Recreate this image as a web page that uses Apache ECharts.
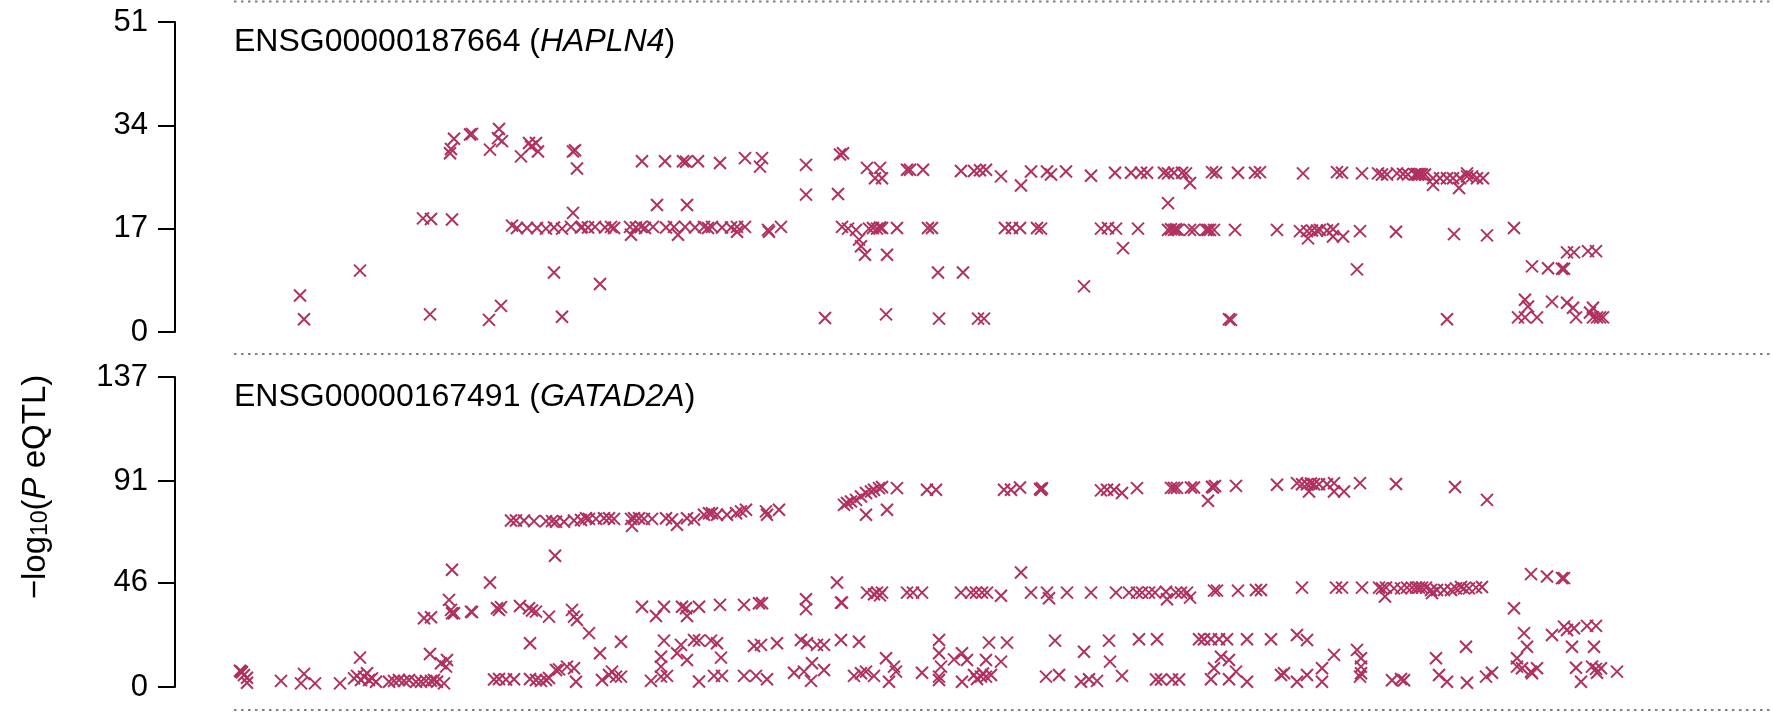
<!DOCTYPE html>
<html>
<head>
<meta charset="utf-8">
<script src="https://cdn.jsdelivr.net/npm/echarts@6/dist/echarts.min.js"></script>
<style>
html, body { margin: 0; padding: 0; background: #fff; }
#main { width: 1773px; height: 716px; }
</style>
</head>
<body>
<div id="main"></div>
<script>
// eQTL -log10(P) against position, two genes
var geneTop = 'ENSG00000187664', symbolTop = 'HAPLN4';
var geneBottom = 'ENSG00000167491', symbolBottom = 'GATAD2A';
var ticksTop = [0, 17, 34, 51];
var ticksBottom = [0, 46, 91, 137];
var posMax = 1539;

// [position, -log10 P]
var hapln4 = [
  [66,6.0],[70,2.1],[126,10.1],[189,18.7],[197,18.6],[218,18.5],[196,2.9],
  [216,29.4],[217,30.1],[220,31.8],[236,32.5],[238,32.6],[256,30.0],[265,33.4],[264,31.9],[268,31.4],
  [255,2.0],[267,4.3],[287,28.9],[295,31.1],[297,30.5],[302,31.1],[304,29.7],[339,29.7],[341,29.9],
  [343,26.9],[339,19.6],[320,9.8],[328,2.5],[366,7.9],
  [278,17.5],[283,17.1],[293,17.1],[303,17.1],[312,17.0],[320,17.2],[328,17.0],[337,17.3],[347,17.2],[397,16.0],
  [408,28.1],[431,28.1],[449,28.1],[452,28.0],[464,28.1],[486,27.8],[511,28.6],[528,28.6],[526,27.2],
  [572,27.5],[606,29.2],[609,29.4],[633,27.0],[646,27.0],[641,25.3],[648,25.3],[673,26.7],[676,26.7],
  [689,26.7],[727,26.5],[740,26.5],[746,26.6],[752,26.7],[767,25.6],[787,24.1],[797,26.4],[813,26.4],
  [817,25.9],[832,26.4],[857,25.7],[881,26.2],[897,26.2],[907,26.2],[913,26.2],
  [423,20.9],[453,20.9],[572,22.6],[604,22.7],[934,21.2],
  [348,17.3],[354,17.2],[361,17.3],[371,17.2],[377,17.3],[380,17.1],[396,17.3],[402,17.2],[407,17.3],
  [411,17.1],[419,17.3],[432,17.2],[440,17.3],[451,17.3],[461,17.2],[470,17.3],[474,17.1],[478,17.3],
  [488,17.2],[497,17.2],[503,17.3],[511,17.3],[534,16.8],[535,16.5],[547,17.3],
  [444,16.0],[503,16.5],
  [608,17.3],[614,17.0],[622,16.8],[635,17.0],[639,17.1],[643,17.0],[646,17.2],[648,17.1],[663,17.1],
  [625,15.2],[627,14.1],[631,12.7],[653,12.7],[694,17.1],[698,17.1],[704,9.8],[729,9.8],
  [591,2.3],[652,2.9],[705,2.2],[744,2.2],[750,2.2],
  [771,17.1],[778,17.1],[786,17.1],[803,17.1],[807,17.0],
  [867,17.0],[874,17.1],[882,17.0],[889,13.8],[904,17.0],[850,7.5],
  [934,16.8],[937,16.9],[940,16.8],[942,16.9],[944,16.8],[956,16.8],[960,16.8],[972,16.8],[974,16.8],
  [976,16.8],[980,16.8],[1001,16.8],[1043,16.8],
  [930,26.2],[934,26.1],[940,26.2],[948,26.2],[952,26.1],[956,24.5],[978,26.3],[982,26.2],[1004,26.2],
  [1021,26.2],[1026,26.3],[1069,26.1],[995,2.1],[997,2.0],
  [1103,26.3],[1108,26.2],[1128,26.1],[1144,26.1],[1148,25.9],[1153,25.9],[1163,26.1],[1169,26.0],
  [1174,25.9],[1181,25.9],[1183,26.0],[1184,25.9],[1186,26.0],[1188,25.9],[1191,25.9],[1199,25.3],
  [1199,24.2],[1206,25.3],[1213,25.3],[1219,25.3],[1226,25.3],[1233,25.6],[1233,26.1],[1238,25.6],
  [1243,25.3],[1249,25.3],[1225,23.7],
  [1066,16.6],[1073,16.6],[1078,16.7],[1083,16.7],[1086,16.8],[1093,16.7],[1099,16.9],[1074,15.4],
  [1099,15.7],[1109,15.7],[1126,16.6],[1162,16.5],[1220,16.1],[1253,15.9],[1280,17.1],
  [1123,10.3],[1213,2.1],
  [1298,10.8],[1314,10.5],[1328,10.4],[1330,10.4],[1333,13.1],[1340,13.1],[1354,13.3],[1362,13.3],
  [1291,5.3],[1294,4.2],[1284,2.4],[1291,2.4],[1303,2.4],[1318,5.0],[1333,4.8],[1339,4.0],[1342,2.4],
  [1359,4.0],[1359,2.4],[1363,2.4],[1366,2.4],[1369,2.4],[1356,3.2]
];

var gatad2a = [
  [7,6.8],[8,6.5],[6,7.2],[10,5.3],[13,1.9],[13,4.1],[47,2.7],[67,1.6],[70,5.8],[81,1.6],[106,1.6],
  [126,13.0],[120,3.8],[123,4.9],[127,3.1],[130,4.6],[133,6.1],[135,3.1],[138,3.8],[142,2.3],
  [155,2.3],[160,2.7],[165,3.1],[170,2.7],[175,3.1],[182,2.3],[187,2.3],[192,2.7],[197,2.7],[200,3.1],
  [203,2.3],[210,1.6],[207,10.5],[212,9.0],[213,11.9],[196,14.6],[190,30.4],[197,30.8],[218,51.8],
  [215,38.5],[218,32.6],[217,34.1],[220,32.6],[238,33.1],[237,33.3],[256,46.2],[263,34.8],[267,35.3],
  [265,34.1],[286,35.8],[295,34.8],[298,33.8],[302,33.3],[315,31.1],[296,19.3],[321,58.0],
  [277,73.6],[282,73.6],[290,73.6],[300,73.3],[312,73.3],[318,73.3],[322,73.0],[330,73.0],[340,73.6],[347,73.8],
  [260,3.3],[265,3.5],[272,3.3],[280,3.4],[296,3.5],[302,3.1],[307,2.7],[312,3.1],[315,4.0],
  [322,7.5],[325,7.8],[333,9.0],[340,8.3],[342,2.3],[338,34.1],[340,31.1],[343,29.6],
  [352,74.6],[355,74.3],[362,74.3],[370,74.6],[375,74.6],[380,74.3],[397,74.3],[400,74.6],[405,74.6],
  [410,74.3],[418,74.3],[398,71.2],[432,74.6],[438,74.0],[443,71.7],[453,74.6],[460,74.0],[470,76.1],
  [475,76.8],[478,76.8],[483,76.1],[493,76.1],[502,76.8],[507,77.6],[512,78.3],[532,77.6],[533,76.1],[545,78.3],
  [610,80.5],[613,81.3],[617,82.0],[622,82.7],[627,84.2],[632,85.7],[637,86.4],[640,87.2],[645,87.9],
  [648,88.4],[663,87.9],[632,76.1],[653,78.3],[693,87.2],
  [408,35.5],[422,31.4],[430,35.5],[448,35.5],[452,34.8],[453,31.4],[465,35.5],[486,36.3],[510,36.3],
  [525,37.0],[528,37.0],[572,38.8],[572,34.4],[603,46.2],[607,37.3],[608,37.3],[633,41.7],[640,41.0],
  [643,41.7],[646,40.5],[648,41.7],[673,41.7],[679,41.7],[688,41.7],
  [355,23.8],[366,14.9],[387,20.0],[368,3.1],[375,5.3],[382,4.6],[387,4.6],[378,6.8],[417,2.7],[427,4.6],
  [433,4.9],[427,13.4],[430,20.5],[427,9.0],[443,14.9],[447,18.6],[453,11.9],[460,20.8],[465,20.5],
  [477,20.5],[483,19.3],[487,13.0],[465,2.4],[480,4.9],[488,4.9],[510,4.9],[522,4.9],[533,3.4],
  [520,18.1],[527,18.6],[543,19.3],[567,20.8],[573,19.3],[583,18.6],[590,18.6],[607,20.8],[625,20.0],
  [578,10.5],[560,6.3],[570,6.8],[577,2.7],[590,7.5],[620,4.9],[627,6.1],[632,6.8],[640,4.9],
  [652,12.7],[660,9.0],[655,2.3],[662,6.8],[688,6.3],
  [702,87.2],[770,87.2],[777,87.2],[786,88.2],[806,87.5],[807,87.2],[808,87.8],[867,86.9],[873,87.2],
  [880,87.2],[888,85.7],[903,87.9],[937,88.0],[940,88.0],[943,88.0],[957,88.2],[960,88.2],[978,88.5],
  [979,88.2],[981,88.8],[974,82.3],[1002,88.9],[1043,89.4],
  [727,41.7],[737,41.7],[742,41.7],[748,41.7],[753,41.7],[767,40.3],[787,50.6],[797,41.7],[813,41.7],
  [815,39.2],[833,41.7],[857,41.7],[882,41.7],[895,41.7],[903,41.7],[908,41.7],[915,41.7],[921,41.7],
  [932,42.1],[933,38.8],[942,41.7],[947,41.7],[953,41.7],[956,39.5],[980,42.6],[983,42.6],[1004,42.6],
  [1022,42.9],[1027,42.9],
  [705,20.8],[705,14.9],[707,9.0],[705,4.6],[705,3.1],[720,12.2],[728,14.9],[733,11.9],[728,2.3],
  [740,5.3],[743,3.5],[747,4.6],[749,6.0],[752,4.6],[757,5.3],[755,19.6],[773,19.6],[752,11.9],[767,11.2],
  [812,4.6],[825,5.3],[821,20.5],[850,15.6],[847,2.3],[855,3.4],[863,2.7],[875,20.5],[876,11.2],[888,4.9],
  [905,21.1],[923,21.1],[922,3.3],[927,3.3],[938,3.3],[945,3.3],[965,21.1],[970,21.1],[977,21.1],
  [985,21.1],[993,21.1],[987,13.4],[995,11.9],[980,8.3],[977,3.4],[995,3.4],[1002,6.8],[1013,21.1],
  [1037,21.1],[1013,2.3],[1047,5.3],
  [1063,90.1],[1068,89.6],[1073,89.6],[1077,89.9],[1080,89.6],[1085,89.6],[1093,89.6],[1100,90.1],
  [1075,86.4],[1100,86.4],[1110,86.4],[1126,90.1],[1162,89.7],[1221,88.4],[1253,82.7],
  [1068,43.9],[1102,43.9],[1108,43.9],[1128,43.9],[1145,43.9],[1148,43.6],[1152,43.9],[1160,43.6],
  [1167,43.6],[1173,43.9],[1178,43.9],[1182,43.9],[1185,43.9],[1188,43.9],[1192,43.9],[1197,42.9],
  [1203,42.9],[1210,42.9],[1217,42.9],[1222,43.6],[1227,44.2],[1230,43.6],[1235,43.6],[1242,43.9],
  [1248,44.2],[1151,40.0],[1198,41.5],[1280,34.8],[1297,49.9],[1313,48.8],[1328,48.1],[1330,48.1],
  [1063,23.0],[1073,20.8],[1050,6.1],[1063,2.3],[1073,5.3],[1088,8.3],[1088,2.3],[1100,14.2],[1123,16.4],
  [1127,12.7],[1127,9.0],[1127,6.1],[1126,4.6],[1158,3.0],[1167,3.5],[1170,3.0],[1202,12.7],[1205,5.3],
  [1213,2.3],[1232,17.8],[1233,1.9],[1252,4.6],[1258,6.3],[1283,12.7],[1283,9.0],[1288,8.3],[1297,6.8],
  [1303,8.3],[1298,6.1],[1290,23.8],[1293,17.8],[1318,23.0],[1330,26.7],[1333,25.2],[1340,26.0],
  [1353,27.0],[1362,27.0],[1338,17.8],[1360,17.8],[1342,8.5],[1347,2.3],[1358,9.0],[1363,6.3],
  [1367,8.3],[1362,8.0],[1383,6.8]
];

var chart = echarts.init(document.getElementById('main'));
var font = '"Liberation Sans", Arial, Helvetica, sans-serif';
var markColor = '#B03060';

function makeYAxis(grid, ticks) {
  var top = ticks[ticks.length - 1];
  return {
    gridIndex: grid, type: 'value', min: 0, max: top,
    position: 'left', offset: 59,
    splitLine: {show: false},
    axisLine: {show: true, onZero: false, lineStyle: {color: '#000', width: 2}},
    axisTick: {show: true, length: 17, lineStyle: {color: '#000', width: 2}, customValues: ticks},
    // margin counts from the axis line, so it includes the tick length
    axisLabel: {color: '#000', fontSize: 31, fontFamily: font, margin: 27, customValues: ticks}
  };
}

function makeSeries(idx, data) {
  return {
    type: 'scatter', xAxisIndex: idx, yAxisIndex: idx, data: data,
    symbol: 'path://M0,0L10,10M10,0L0,10', symbolSize: 12,
    itemStyle: {color: 'rgba(0,0,0,0)', borderColor: markColor, borderWidth: 2, opacity: 1},
    silent: true
  };
}

function dotted(y) {
  return {type: 'line', shape: {x1: 234, y1: y, x2: 1773, y2: y},
    style: {stroke: '#7f7f7f', lineWidth: 2, lineDash: [2.5, 4.5]}};
}

function label(y, gene, sym) {
  return {type: 'text', x: 234, y: y,
    style: {text: '{n|' + gene + ' (}{i|' + sym + '}{n|)}', verticalAlign: 'middle', align: 'left',
      rich: {n: {fontSize: 32, fontFamily: font, fill: '#000'},
             i: {fontSize: 32, fontFamily: font, fontStyle: 'italic', fill: '#000'}}}};
}

var option = {
  animation: false,
  backgroundColor: '#fff',
  grid: [
    {left: 234, right: 0, top: 22, height: 310},
    {left: 234, right: 0, top: 377, height: 310}
  ],
  xAxis: [
    {gridIndex: 0, type: 'value', min: 0, max: posMax, show: false},
    {gridIndex: 1, type: 'value', min: 0, max: posMax, show: false}
  ],
  yAxis: [makeYAxis(0, ticksTop), makeYAxis(1, ticksBottom)],
  series: [makeSeries(0, hapln4), makeSeries(1, gatad2a)],
  graphic: [
    dotted(1.5), dotted(354), dotted(710),
    label(42, geneTop, symbolTop),
    label(397, geneBottom, symbolBottom),
    {type: 'text', x: 36, y: 487, rotation: Math.PI / 2,
      style: {text: '{n|\u2212log}{s|10}{n|(}{i|P}{n| eQTL)}', align: 'center', verticalAlign: 'middle',
        rich: {n: {fontSize: 33, fontFamily: font, fill: '#000'},
               i: {fontSize: 33, fontFamily: font, fontStyle: 'italic', fill: '#000'},
               s: {fontSize: 23, fontFamily: font, fill: '#000', verticalAlign: 'bottom', padding: [10, 0, 0, 0]}}}}
  ]
};
chart.setOption(option);
</script>
</body>
</html>
